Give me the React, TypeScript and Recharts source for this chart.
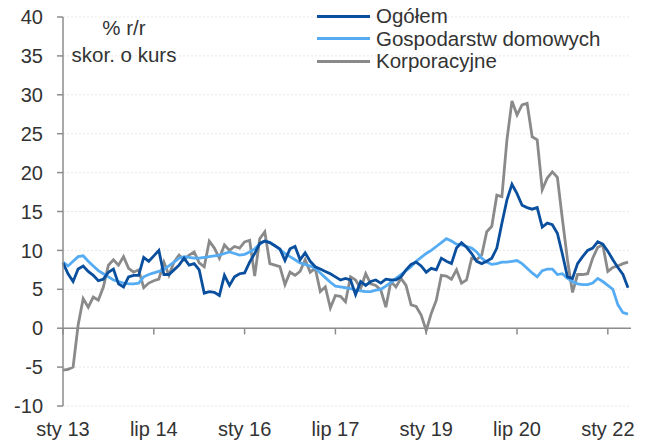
import React from 'react';
import { LineChart, Line, XAxis, YAxis, CartesianGrid, ReferenceLine, Legend } from 'recharts';

const FONT = '"Liberation Sans", Arial, sans-serif';
const DARK = '#0a4f9e';
const LIGHT = '#55acf3';
const GREY = '#8a8a8a';
const AXIS = '#8c8c8c';
const TEXT = '#333333';

// miesiące sty 13 .. maj 22
const monthNames = ['sty', 'lut', 'mar', 'kwi', 'maj', 'cze', 'lip', 'sie', 'wrz', 'paź', 'lis', 'gru'];
const months: string[] = [];
for (let k = 0; k < 113; k++) months.push(`${monthNames[k % 12]} ${13 + Math.floor(k / 12)}`);

const xTicks = ['sty 13', 'lip 14', 'sty 16', 'lip 17', 'sty 19', 'lip 20', 'sty 22'];
const yTicks = [-10, -5, 0, 5, 10, 15, 20, 25, 30, 35, 40];

const ogolem = [
  8.4, 7.0, 6.0, 7.6, 8.0, 7.3, 6.8, 6.1, 6.3, 7.2, 7.6, 5.7, 5.3, 6.6, 6.8, 6.8, 9.1, 8.6, 9.3, 10.0,
  6.9, 6.9, 7.5, 8.1, 9.0, 8.1, 8.3, 7.5, 4.5, 4.7, 4.6, 4.2, 6.8, 5.5, 6.6, 7.0, 7.1, 8.5, 9.6, 10.9,
  11.2, 11.0, 10.6, 10.2, 8.7, 10.2, 10.5, 8.8, 9.7, 8.6, 7.9, 7.6, 7.3, 7.0, 6.6, 6.2, 6.4, 6.2, 4.3, 6.0,
  5.5, 6.0, 6.2, 5.8, 6.3, 6.2, 6.2, 6.6, 7.5, 8.2, 8.5, 8.0, 7.2, 7.7, 7.5, 9.0, 8.6, 8.3, 10.3, 11.0,
  10.4, 9.6, 8.6, 8.3, 8.6, 9.0, 10.3, 13.5, 16.5, 18.5, 17.3, 15.8, 15.5, 15.3, 15.5, 13.0, 13.5, 13.3, 12.2, 9.5,
  6.6, 6.4, 8.3, 9.2, 10.0, 10.3, 11.1, 10.8, 9.9, 8.8, 7.8, 6.9, 5.2,
];

const gospodarstwa = [
  8.5, 8.0, 8.6, 9.2, 9.3, 8.6, 8.0, 7.4, 7.0, 6.6, 6.2, 6.0, 5.8, 5.7, 5.7, 5.8, 6.6, 6.9, 7.1, 7.3,
  7.6, 8.0, 8.5, 9.0, 9.2, 9.1, 9.0, 9.0, 9.1, 9.2, 9.3, 9.4, 9.6, 9.8, 9.6, 9.4, 9.5, 9.8, 10.2, 10.8,
  11.2, 11.0, 10.6, 10.1, 9.6, 9.2, 8.8, 8.4, 8.2, 8.0, 7.7, 7.1, 6.5, 5.9, 5.4, 5.3, 5.2, 5.1, 4.9, 4.8,
  4.7, 4.7, 4.9, 5.0, 5.4, 5.9, 6.4, 6.9, 7.4, 7.9, 8.6, 9.1, 9.6, 10.0, 10.5, 11.0, 11.5, 11.2, 10.8, 10.7,
  10.5, 10.3, 9.8, 9.0, 8.5, 8.2, 8.3, 8.5, 8.5, 8.6, 8.7, 8.3, 7.7, 7.1, 6.6, 7.4, 7.6, 7.6, 6.9, 7.0,
  6.4, 6.0, 5.7, 5.6, 5.6, 5.8, 6.4, 6.0, 5.5, 5.0, 3.0, 2.0, 1.8,
];

const korporacyjne = [
  -5.4, -5.3, -5.0, 0.4, 3.8, 2.7, 4.0, 3.6, 5.3, 8.1, 8.8, 8.1, 9.2, 7.7, 7.2, 7.5, 5.2, 5.8, 6.1, 6.3,
  8.5, 6.8, 8.5, 9.4, 8.8, 9.4, 9.8, 8.4, 7.9, 11.2, 10.3, 9.0, 10.7, 10.0, 10.5, 10.3, 11.1, 11.3, 6.7, 11.5,
  12.4, 8.3, 8.1, 7.9, 5.6, 7.2, 6.8, 7.3, 8.8, 7.2, 7.7, 4.7, 5.3, 2.6, 4.2, 4.1, 3.4, 6.6, 6.2, 5.1,
  7.0, 5.7, 5.5, 4.9, 2.7, 6.0, 5.3, 6.4, 5.5, 3.0, 2.8, 1.7, -0.3, 1.9, 3.6, 6.8, 6.7, 6.3, 7.5, 5.8,
  6.2, 9.0, 8.8, 9.4, 12.4, 13.1, 17.1, 16.9, 24.2, 29.2, 27.4, 28.7, 28.9, 24.6, 24.2, 17.8, 19.3, 20.1, 19.4, 14.0,
  8.8, 4.6, 6.9, 6.9, 7.0, 9.0, 10.4, 10.7, 7.3, 7.8, 8.0, 8.3, 8.5,
];

const data = months.map((m, i) => ({
  m,
  ogolem: ogolem[i],
  gosp: gospodarstwa[i],
  korp: korporacyjne[i],
}));

const legendItems = [
  { key: 'ogolem', name: 'Ogółem', color: DARK },
  { key: 'gosp', name: 'Gospodarstw domowych', color: LIGHT },
  { key: 'korp', name: 'Korporacyjne', color: GREY },
];

const renderLegend = () => (
  <div style={{ fontFamily: FONT, fontSize: 20.5, color: TEXT, lineHeight: '22.5px' }}>
    {legendItems.map(it => (
      <div key={it.key} style={{ display: 'flex', alignItems: 'center', whiteSpace: 'nowrap' }}>
        <span style={{ display: 'inline-block', width: 53, height: 3, background: it.color, marginRight: 6 }} />
        <span>{it.name}</span>
      </div>
    ))}
  </div>
);

// wykres zaczyna się przy górnej krawędzi strony, żeby etykieta "40" nie była ucięta
export default function App() {
  return (
    <div style={{ position: 'relative', width: 640, height: 440, marginTop: -8 }}>
      <LineChart width={640} height={440} data={data} margin={{ top: 17, right: 17, left: 5, bottom: 4 }}>
        <CartesianGrid vertical={false} stroke="#e8e8e8" strokeDasharray="2 2" />
        <XAxis
          dataKey="m"
          ticks={xTicks}
          interval={0}
          axisLine={false}
          tickLine={false}
          tickSize={0}
          tickMargin={16}
          height={30}
          padding={{ left: 0, right: 3 }}
          tick={{ fontFamily: FONT, fontSize: 20, fill: TEXT }}
        />
        <YAxis
          domain={[-10, 40]}
          ticks={yTicks}
          interval={0}
          width={50}
          axisLine={{ stroke: AXIS, strokeWidth: 1.5 }}
          tickLine={{ stroke: AXIS, strokeWidth: 1.5 }}
          tickSize={6}
          tickMargin={14}
          tick={{ fontFamily: FONT, fontSize: 20, fill: TEXT }}
        />
        <ReferenceLine y={0} stroke={AXIS} strokeWidth={1.5} />
        {xTicks.map(t => (
          <ReferenceLine key={t} segment={[{ x: t, y: 0 }, { x: t, y: -0.8 }]} stroke={AXIS} strokeWidth={1.5} />
        ))}
        <Legend
          layout="vertical"
          align="center"
          verticalAlign="middle"
          content={renderLegend}
          wrapperStyle={{ top: 5, left: 309, width: 320, height: 70 }}
        />
        <Line type="linear" dataKey="korp" name="Korporacyjne" stroke={GREY} strokeWidth={2.8} dot={false} isAnimationActive={false} />
        <Line type="linear" dataKey="gosp" name="Gospodarstw domowych" stroke={LIGHT} strokeWidth={2.8} dot={false} isAnimationActive={false} />
        <Line type="linear" dataKey="ogolem" name="Ogółem" stroke={DARK} strokeWidth={2.8} dot={false} isAnimationActive={false} />
      </LineChart>
      <div
        style={{
          position: 'absolute',
          left: 54,
          top: 14,
          width: 124,
          textAlign: 'center',
          fontFamily: FONT,
          fontSize: 20.5,
          lineHeight: '27px',
          color: TEXT,
        }}
      >
        % r/r
        <br />
        skor. o kurs
      </div>
    </div>
  );
}
